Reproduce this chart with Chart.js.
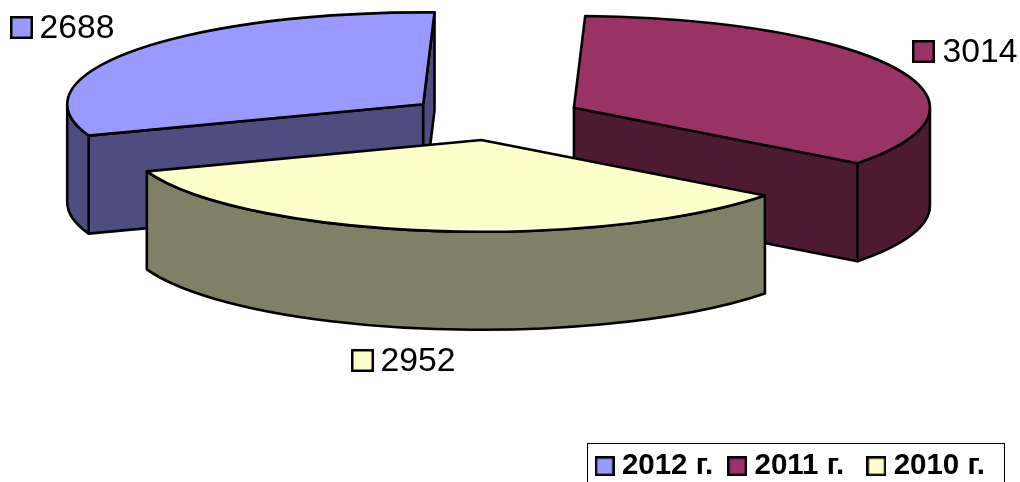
<!DOCTYPE html>
<html>
<head>
<meta charset="utf-8">
<style>html,body{margin:0;padding:0;background:#fff}#w{width:1020px;height:482px;position:relative}</style>
<script src="https://cdn.jsdelivr.net/npm/chart.js@4"></script>
</head>
<body>
<div id="w"><canvas id="c"></canvas></div>
<script>
const categories = ['2012 г.', '2011 г. ', '2010 г.'];
const values = [2688, 3014, 2952];
const topColors = ['#9999FF', '#993366', '#FFFFCC'];
const sideColors = ['#4D4D80', '#4D1A33', '#808066'];

const FONT = '"Liberation Sans", Arial, sans-serif';
const CENTER = { x: 494.5, y: 117.5 };
const FLAT = 0.258, DEPTH = 98, EXPLODE = 88;
const LABEL_AT = [{ x: 10, y: 16, t: 39.5 }, { x: 912, y: 40, t: 942.5 }, { x: 351, y: 349, t: 380.5 }];
const LEGEND_BOX = { l: 587.5, t: 443.5, r: 1004.5, b: 490 };

function swatch(color, size) {
  const c = document.createElement('canvas');
  c.width = c.height = size;
  const x = c.getContext('2d');
  x.fillStyle = color; x.fillRect(1, 1, size - 2, size - 2);
  x.strokeStyle = '#000'; x.lineWidth = 2.5; x.strokeRect(1.25, 1.25, size - 2.5, size - 2.5);
  return c;
}

const pie3d = {
  id: 'pie3d',
  beforeDatasetDraw(chart, args) {
    const ctx = chart.ctx;
    const arcs = chart.getDatasetMeta(args.index).data;
    ctx.save();
    ctx.lineWidth = 2.6; ctx.strokeStyle = '#000'; ctx.lineJoin = 'round';
    arcs.forEach((arc, i) => {
      const { startAngle: s, endAngle: e, outerRadius: r } = arc.getProps(['startAngle', 'endAngle', 'outerRadius']);
      const mid = (s + e) / 2, rf = r * FLAT;
      const ax = CENTER.x + Math.cos(mid) * EXPLODE;
      const ay = CENTER.y + Math.sin(mid) * EXPLODE * FLAT;
      const pt = a => [ax + r * Math.cos(a), ay + rf * Math.sin(a)];
      ctx.fillStyle = sideColors[i];
      const face = a => {
        const p = pt(a);
        ctx.beginPath();
        ctx.moveTo(ax, ay); ctx.lineTo(p[0], p[1]);
        ctx.lineTo(p[0], p[1] + DEPTH); ctx.lineTo(ax, ay + DEPTH);
        ctx.closePath(); ctx.fill(); ctx.stroke();
      };
      if (-Math.cos(s) > 0) face(s);
      if (Math.cos(e) > 0) face(e);
      [-2, 0, 2].forEach(k => {
        const a0 = Math.max(s, k * Math.PI), a1 = Math.min(e, (k + 1) * Math.PI);
        if (a1 <= a0) return;
        ctx.beginPath();
        ctx.ellipse(ax, ay, r, rf, 0, a0, a1);
        ctx.ellipse(ax, ay + DEPTH, r, rf, 0, a1, a0, true);
        ctx.closePath(); ctx.fill(); ctx.stroke();
      });
      ctx.beginPath();
      ctx.moveTo(ax, ay);
      ctx.ellipse(ax, ay, r, rf, 0, s, e);
      ctx.closePath();
      ctx.fillStyle = topColors[i]; ctx.fill(); ctx.stroke();
    });
    ctx.restore();
    return false;
  },
  afterDraw(chart) {
    const ctx = chart.ctx;
    ctx.save();
    ctx.font = '33.7px ' + FONT; ctx.fillStyle = '#000'; ctx.textBaseline = 'alphabetic';
    values.forEach((v, i) => {
      const p = LABEL_AT[i];
      ctx.drawImage(swatch(topColors[i], 23), p.x, p.y);
      ctx.fillText(String(v), p.t, p.y + 22);
    });
    ctx.strokeStyle = '#000'; ctx.lineWidth = 1;
    const b = LEGEND_BOX;
    ctx.strokeRect(b.l, b.t, b.r - b.l, b.b - b.t);
    ctx.restore();
  }
};

new Chart(document.getElementById('c'), {
  type: 'pie',
  data: { labels: categories, datasets: [{ data: values, backgroundColor: topColors, borderColor: '#000', borderWidth: 2 }] },
  plugins: [pie3d],
  options: {
    responsive: true, maintainAspectRatio: false, animation: false,
    rotation: 250, radius: 356,
    layout: { padding: { right: 13.5, bottom: -9 } },
    plugins: {
      tooltip: { enabled: false },
      legend: {
        position: 'bottom', align: 'end',
        labels: {
          usePointStyle: true, pointStyleWidth: 5, padding: 21.5, color: '#000',
          font: { family: FONT, size: 29.5, weight: 'bold' },
          generateLabels: () => categories.map((t, i) => ({
            text: t, index: i, hidden: false, lineWidth: 0, pointStyle: swatch(topColors[i], 20), fontColor: '#000'
          }))
        }
      }
    }
  }
});
</script>
</body>
</html>
